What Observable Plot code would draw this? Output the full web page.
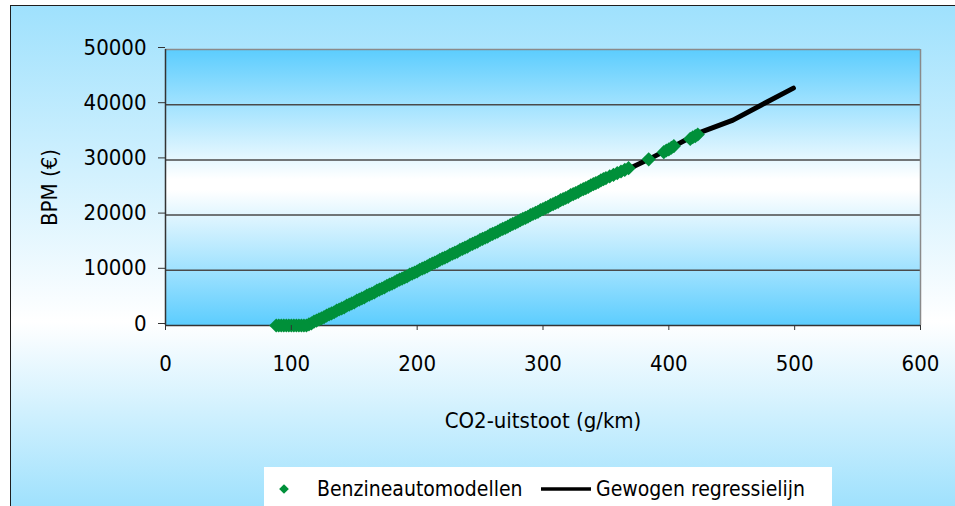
<!DOCTYPE html>
<html>
<head>
<meta charset="utf-8">
<script src="https://cdn.jsdelivr.net/npm/d3@7"></script>
<script src="https://cdn.jsdelivr.net/npm/@observablehq/plot@0.6"></script>
<style>
  html, body { margin: 0; padding: 0; background: #ffffff; }
  #wrap { position: relative; width: 955px; height: 506px; overflow: hidden; }
  #bg {
    position: absolute; left: 10px; top: 5px; width: 960px; height: 501px;
    border-top: 1.5px solid #1e1e1e; border-left: 1.5px solid #1e1e1e;
    background: linear-gradient(to bottom, #9fe1fd 0%, #ffffff 63%, #9fe1fd 100%);
  }
  #chart { position: absolute; left: 0; top: 0; }
  #chart svg { background: transparent !important; }
  #legend { position: absolute; left: 264px; top: 467px; width: 568px; height: 45px; background: #ffffff; }
</style>
</head>
<body>
<div id="wrap">
  <div id="bg"></div>
  <div id="chart"></div>
  <div id="legend"></div>
</div>
<script>
const FONT = '"DejaVu Sans Condensed", "DejaVu Sans", sans-serif';

// Green markers: petrol car models (CO2 g/km, BPM €)
const modelCO2 = [88, 90, 92, 94, 96, 98, 100, 102, 104, 106, 108, 110, 112,
  114, 116, 118, 120, 122, 124, 126, 128, 130, 132, 134, 136, 138, 140, 142, 144, 146, 148, 150,
  152, 154, 156, 158, 160, 162, 164, 166, 168, 170, 172, 174, 176, 178, 180, 182, 184, 186, 188, 190,
  192, 194, 196, 198, 200, 202, 204, 206, 208, 210, 212, 214, 216, 218, 220, 222, 224, 226, 228, 230,
  232, 234, 236, 238, 240, 242, 244, 246, 248, 250, 252, 254, 256, 258, 260, 262, 264, 266, 268, 270,
  272, 274, 276, 278, 280, 282, 284, 286, 288, 290, 292, 294, 296, 298, 300, 302, 304, 306, 308, 310,
  312, 314, 316, 318, 320, 322, 324, 326, 328, 330, 332, 334, 336, 338, 340, 342, 344, 346, 348, 350,
  353, 356, 359, 362, 365, 368,
  384, 396, 398, 400, 402, 404, 417, 419, 421, 423];
const modelBPM = [0, 0, 0, 0, 0, 0, 0, 0, 0, 0, 0, 0, 0,
  200, 400, 700, 900, 1100, 1300, 1500, 1800, 2000, 2200, 2400, 2700, 2900, 3100, 3300, 3600, 3800, 4000, 4200,
  4500, 4700, 4900, 5100, 5400, 5600, 5800, 6000, 6300, 6500, 6700, 6900, 7200, 7400, 7600, 7800, 8100, 8300, 8500, 8700,
  8900, 9200, 9400, 9600, 9800, 10100, 10300, 10500, 10700, 11000, 11200, 11400, 11600, 11900, 12100, 12300, 12500, 12800, 13000, 13200,
  13400, 13700, 13900, 14100, 14300, 14600, 14800, 15000, 15200, 15500, 15700, 15900, 16100, 16400, 16600, 16800, 17000, 17300, 17500, 17700,
  17900, 18200, 18400, 18600, 18800, 19100, 19300, 19500, 19700, 20000, 20200, 20400, 20600, 20900, 21100, 21300, 21500, 21800, 22000, 22200,
  22400, 22700, 22900, 23100, 23300, 23600, 23800, 24000, 24200, 24500, 24700, 24900, 25100, 25400, 25600, 25800, 26000, 26300, 26500, 26700,
  27000, 27300, 27600, 27900, 28200, 28500,
  30100, 31400, 31700, 31900, 32200, 32500, 33800, 34100, 34300, 34600];

// Black weighted regression line
const lineCO2 = [112, 150, 200, 250, 300, 350, 384, 400, 425, 451, 478, 499];
const lineBPM = [0, 4200, 9800, 15300, 20900, 26400, 30100, 32000, 35000, 37200, 40500, 43000];

const xTicks = [0, 100, 200, 300, 400, 500, 600];
const yTicks = [0, 10000, 20000, 30000, 40000, 50000];
const gridLines = [10000, 20000, 30000, 40000];

const xLabel = "CO2-uitstoot (g/km)";
const yLabel = "BPM (€)";
const legendLabels = ["Benzineautomodellen", "Gewogen regressielijn"];

const models = modelCO2.map((c, i) => ({co2: c, bpm: modelBPM[i]}));
const regression = lineCO2.map((c, i) => ({co2: c, bpm: lineBPM[i]}));

const plot = Plot.plot({
  width: 955,
  height: 506,
  marginLeft: 165,
  marginRight: 35,
  marginTop: 49,
  marginBottom: 181,
  style: {background: "transparent", fontFamily: FONT, fontSize: "22px", color: "#000", overflow: "visible"},
  x: {domain: [0, 600]},
  y: {domain: [0, 50000]},
  marks: [
    Plot.frame({fill: "url(#plotGrad)", stroke: "none"}),
    Plot.ruleY(gridLines, {stroke: "#4a4a4a", strokeWidth: 1.5}),
    Plot.ruleY([50000], {stroke: "#8a8a8a", strokeWidth: 1.5}),
    Plot.ruleX([600], {stroke: "#8a8a8a", strokeWidth: 1.5}),
    Plot.ruleY([0], {stroke: "#333", strokeWidth: 1.5}),
    Plot.ruleX([0], {stroke: "#333", strokeWidth: 1.5}),
    Plot.line(regression, {x: "co2", y: "bpm", stroke: "#000", strokeWidth: 5, strokeLinecap: "round", strokeLinejoin: "round"}),
    Plot.dot(models, {x: "co2", y: "bpm", symbol: "diamond2", r: 6.4, fill: "#00903a", stroke: "none"}),
    Plot.axisY({ticks: yTicks, tickSize: 7, tickPadding: 12, dy: -2, tickFormat: d => String(d), stroke: "#333",
      fontSize: 22, label: yLabel, labelAnchor: "center", labelOffset: 124, labelArrow: false}),
    Plot.axisX({ticks: xTicks, tickSize: 5, tickPadding: 25, tickFormat: d => String(d), stroke: "#333",
      fontSize: 22, label: xLabel, labelAnchor: "center", labelOffset: 102, labelArrow: false})
  ]
});

// gradient for plot area
const svg = d3.select(plot);
const defs = svg.insert("defs", ":first-child");
const g = defs.append("linearGradient").attr("id", "plotGrad").attr("x1", 0).attr("y1", 0).attr("x2", 0).attr("y2", 1);
g.append("stop").attr("offset", "0%").attr("stop-color", "#5ccdfe");
g.append("stop").attr("offset", "47%").attr("stop-color", "#ffffff");
g.append("stop").attr("offset", "51%").attr("stop-color", "#ffffff");
g.append("stop").attr("offset", "100%").attr("stop-color", "#5ccdfe");

document.getElementById("chart").appendChild(plot);

// legend
const leg = d3.select("#legend").append("svg").attr("width", 568).attr("height", 45)
  .style("font-family", FONT).style("font-size", "21px");
leg.append("path").attr("d", d3.symbol(d3.symbolDiamond2, 60)()).attr("transform", "translate(20,22)").attr("fill", "#00903a");
leg.append("text").attr("x", 53).attr("y", 29).attr("fill", "#000").text(legendLabels[0]);
leg.append("line").attr("x1", 277).attr("x2", 327).attr("y1", 22).attr("y2", 22).attr("stroke", "#000").attr("stroke-width", 3.5);
leg.append("text").attr("x", 332).attr("y", 29).attr("fill", "#000").text(legendLabels[1]);
</script>
</body>
</html>
